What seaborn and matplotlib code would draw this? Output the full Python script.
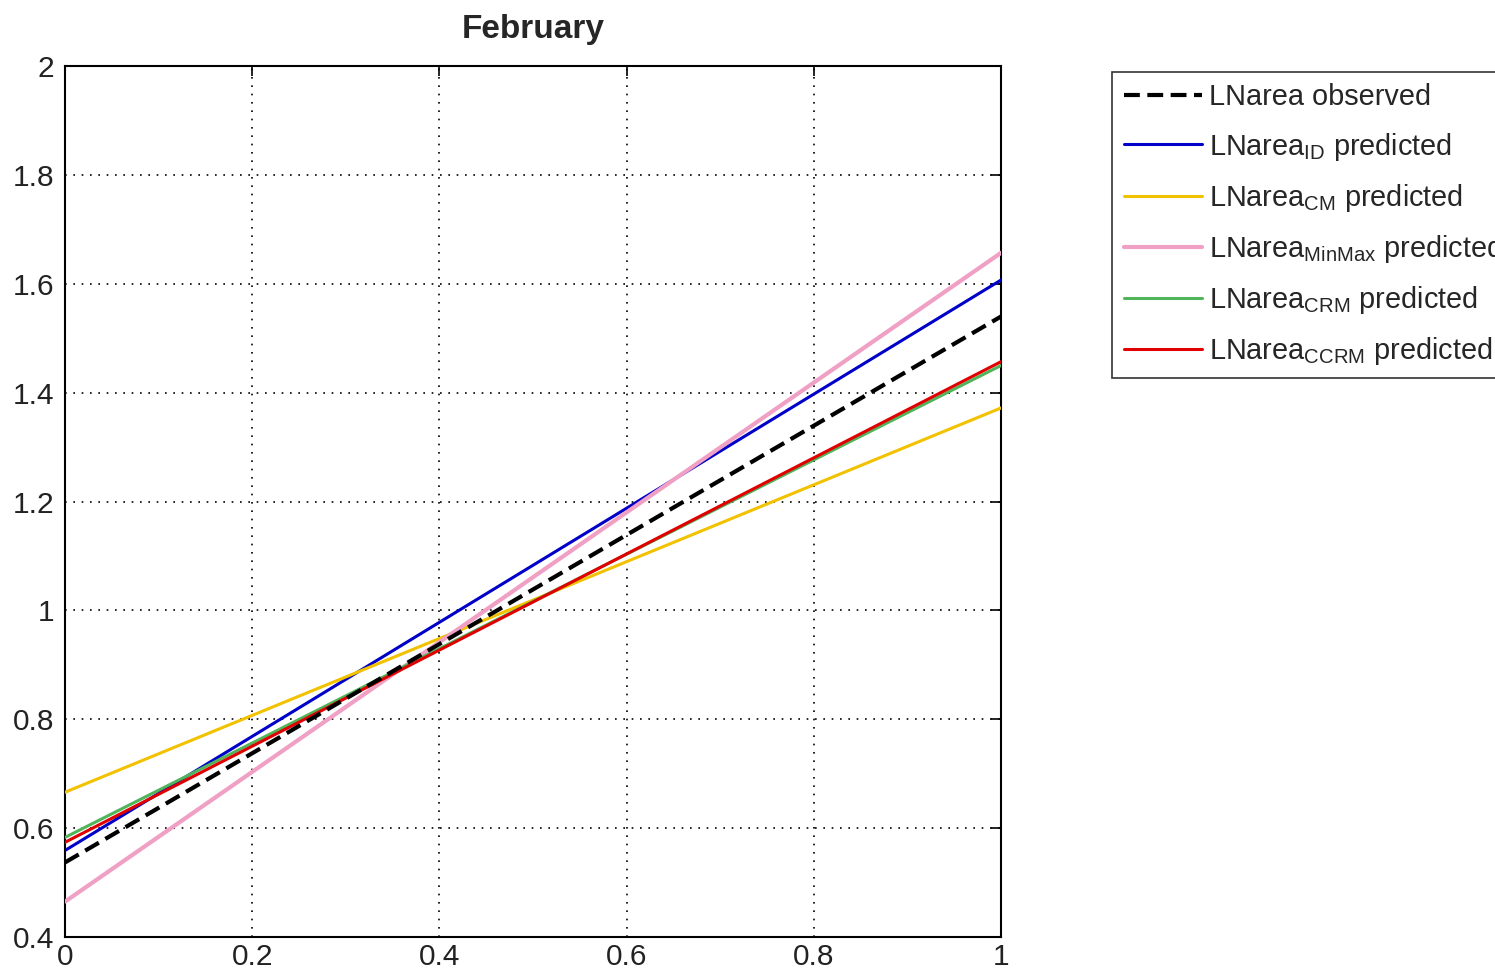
import numpy as np
import pandas as pd
import matplotlib
matplotlib.use("Agg")
import matplotlib.pyplot as plt
import seaborn as sns

# Fitted LNarea relations for February: value at x = 0 and x = 1
x_ends = [0.0, 1.0]
observed = [0.537, 1.540]
pred_id = [0.559, 1.607]
pred_cm = [0.666, 1.372]
pred_minmax = [0.465, 1.657]
pred_crm = [0.583, 1.450]
pred_ccrm = [0.574, 1.457]

labels = [
    "LNarea observed",
    r"LNarea$_{\mathregular{ID}}$ predicted",
    r"LNarea$_{\mathregular{CM}}$ predicted",
    r"LNarea$_{\mathregular{MinMax}}$ predicted",
    r"LNarea$_{\mathregular{CRM}}$ predicted",
    r"LNarea$_{\mathregular{CCRM}}$ predicted",
]
series = [observed, pred_id, pred_cm, pred_minmax, pred_crm, pred_ccrm]
colors = ["#000000", "#0000c8", "#f2c200", "#f0a0c4", "#4fb45a", "#e00000"]
widths = [3.0, 2.2, 2.2, 3.0, 2.2, 2.2]
dashes = [(3.8, 1.8), "", "", "", "", ""]

x_ticks = [0, 0.2, 0.4, 0.6, 0.8, 1]
y_ticks = [0.4, 0.6, 0.8, 1, 1.2, 1.4, 1.6, 1.8, 2]

sns.set_style("white")
plt.rcParams["font.family"] = ["Liberation Sans", "DejaVu Sans"]
plt.rcParams["mathtext.default"] = "regular"

rows = []
for lab, vals in zip(labels, series):
    for xv, yv in zip(x_ends, vals):
        rows.append({"x": xv, "y": yv, "series": lab})
df = pd.DataFrame(rows)

fig = plt.figure(figsize=(14.95, 9.72), dpi=100)
ax = fig.add_axes([0.0435, 0.036, 0.6261, 0.896])

for lab, col, lw, ds in zip(labels, colors, widths, dashes):
    sub = df[df["series"] == lab]
    sns.lineplot(data=sub, x="x", y="y", ax=ax, color=col, linewidth=lw,
                 label=lab, dashes=False, zorder=3 if lab != labels[0] else 4)
    line = ax.get_lines()[-1]
    if ds:
        line.set_dashes(ds)

ax.set_xlim(0, 1)
ax.set_ylim(0.4, 2)
ax.set_xticks(x_ticks)
ax.set_yticks(y_ticks)
ax.set_xticklabels(["0", "0.2", "0.4", "0.6", "0.8", "1"])
ax.set_yticklabels(["0.4", "0.6", "0.8", "1", "1.2", "1.4", "1.6", "1.8", "2"])
ax.set_xlabel("")
ax.set_ylabel("")
ax.grid(True, color="black", linestyle=(0, (1, 4)), linewidth=1.2)
ax.tick_params(direction="in", length=7, width=1.2, top=True, right=True,
               labelsize=21.5, colors="black")
ax.tick_params(axis="x", pad=4)
ax.tick_params(axis="y", pad=8)
for lbl in ax.get_xticklabels() + ax.get_yticklabels():
    lbl.set_color("#222222")
for sp in ax.spines.values():
    sp.set_visible(True)
    sp.set_color("black")
    sp.set_linewidth(1.5)

ax.set_title("February", fontsize=24, fontweight="bold", pad=20)

ax.get_legend().remove()
handles = ax.get_lines()[:len(labels)]
leg = fig.legend(handles, labels, loc="upper left",
                 bbox_to_anchor=(0.744, 0.926), fontsize=20.8,
                 frameon=True, fancybox=False, edgecolor="black",
                 handlelength=2.7, handletextpad=0.25, labelspacing=0.66,
                 borderpad=0.4, borderaxespad=0)
leg.get_frame().set_linewidth(1.2)

fig.savefig("out.png", dpi=100)
